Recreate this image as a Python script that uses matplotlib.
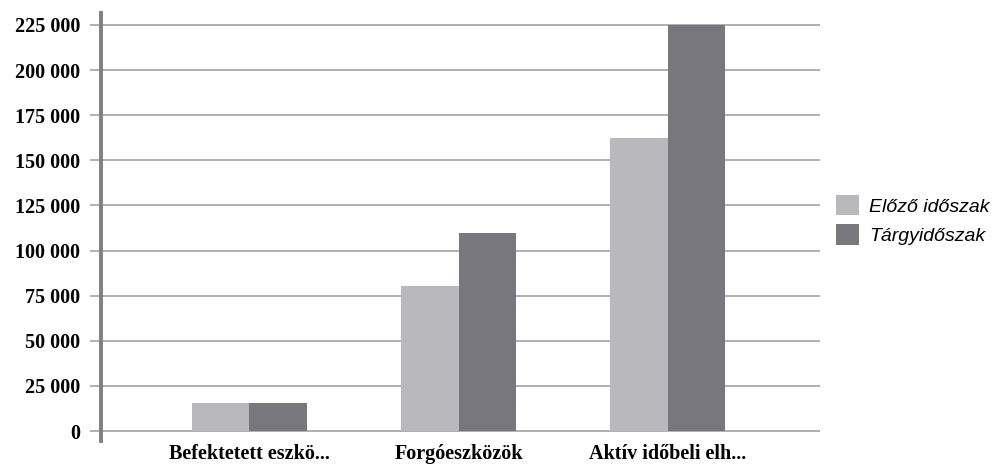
import numpy as np
import matplotlib.pyplot as plt
from matplotlib.ticker import FuncFormatter

categories = ["Befektetett eszkö...", "Forgóeszközök", "Aktív időbeli elh..."]
series_names = ["Előző időszak", "Tárgyidőszak"]
elozo = [15500, 80500, 162500]
targy = [15800, 110000, 225000]
y_ticks = [0, 25000, 50000, 75000, 100000, 125000, 150000, 175000, 200000, 225000]

colors = ["#b9b9bd", "#77777d"]

fig = plt.figure(figsize=(9.93, 4.66), dpi=100)
ax = fig.add_axes([0.1017, 0.0536, 0.7243, 0.9185])

x = np.arange(len(categories))
w = 0.275
ax.bar(x - w / 2, elozo, w, color=colors[0], label=series_names[0], zorder=3)
ax.bar(x + w / 2, targy, w, color=colors[1], label=series_names[1], zorder=3)

ax.set_xlim(-0.71, 2.73)
ax.set_ylim(-5500, 231600)
ax.set_yticks(y_ticks)
ax.yaxis.set_major_formatter(FuncFormatter(lambda v, p: f"{int(v):,}".replace(",", " ")))
ax.grid(axis="y", color="#9a9a9a", linewidth=1.1, zorder=0)
ax.set_axisbelow(True)

for s in ["top", "right", "bottom"]:
    ax.spines[s].set_visible(False)
ax.spines["left"].set_color("#808080")
ax.spines["left"].set_linewidth(2.8)

ax.tick_params(axis="y", length=8, width=1.1, color="#9a9a9a", pad=7)
ax.tick_params(axis="x", length=0, pad=2)
ax.set_xticks(x)
ax.set_xticklabels(categories)

for lab in ax.get_yticklabels():
    lab.set_fontfamily("Liberation Serif")
    lab.set_fontweight("bold")
    lab.set_fontsize(14.5)
for lab in ax.get_xticklabels():
    lab.set_fontfamily("Liberation Serif")
    lab.set_fontweight("bold")
    lab.set_fontsize(14.5)

leg = fig.legend(loc="center left", bbox_to_anchor=(0.842, 0.528), frameon=False,
                 borderaxespad=0, borderpad=0,
                 prop={"family": "Liberation Sans", "style": "italic", "size": 14},
                 handlelength=1.2, handleheight=1.25, handletextpad=0.5, labelspacing=0.45)

fig.savefig("out.png", dpi=100)
